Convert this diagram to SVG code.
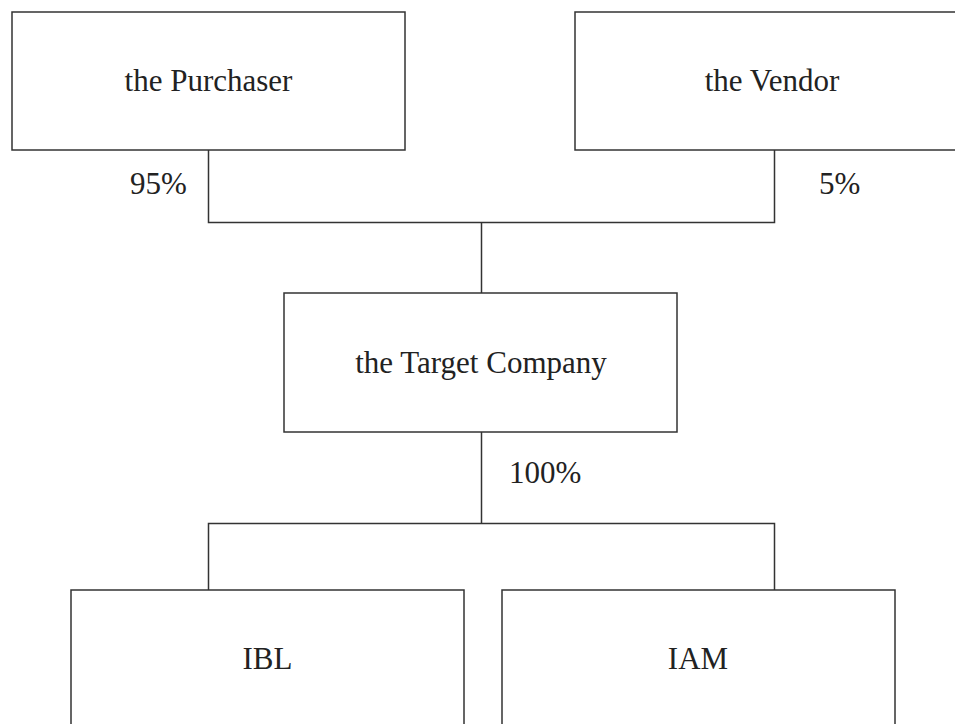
<svg xmlns="http://www.w3.org/2000/svg" width="955" height="724" viewBox="0 0 955 724">
<style>
.box{fill:#fff;stroke:#333;stroke-width:1.5}
.ln{fill:none;stroke:#333;stroke-width:1.5}
text{font-family:"Liberation Serif","Times New Roman",serif;font-size:31px;fill:#222}
.c{text-anchor:middle}
</style>
<rect width="955" height="724" fill="#fff"/>
<g id="connectors">
<path class="ln" d="M208.5 150V222.5H774.5V150"/>
<path class="ln" d="M481.5 222.5V293"/>
<path class="ln" d="M481.5 432V523.5"/>
<path class="ln" d="M208.5 590V523.5H774.5V590"/>
<text x="130" y="194">95%</text>
<text x="819" y="194">5%</text>
<text x="509" y="483">100%</text>
</g>
<g id="purchaser">
<rect class="box" x="12" y="12" width="393" height="138"/>
<text class="c" x="208.5" y="91">the Purchaser</text>
</g>
<g id="vendor">
<rect class="box" x="575" y="12" width="400" height="138"/>
<text class="c" x="772" y="91">the Vendor</text>
</g>
<g id="target">
<rect class="box" x="284" y="293" width="393" height="139"/>
<text class="c" x="481" y="373">the Target Company</text>
</g>
<g id="ibl">
<rect class="box" x="71" y="590" width="393" height="150"/>
<text class="c" x="267.5" y="669">IBL</text>
</g>
<g id="iam">
<rect class="box" x="502" y="590" width="393" height="150"/>
<text class="c" x="698" y="669">IAM</text>
</g>
</svg>
